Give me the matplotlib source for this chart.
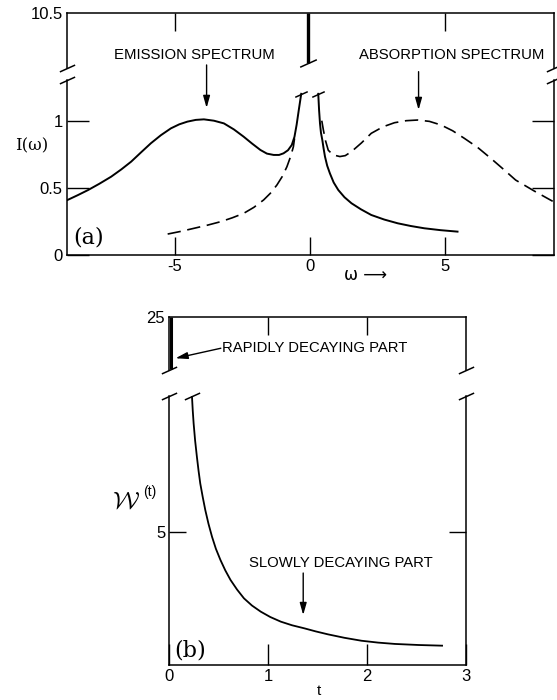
import numpy as np
import matplotlib
matplotlib.use("Agg")
import matplotlib.pyplot as plt

plt.rcParams['font.family'] = ['Liberation Sans', 'DejaVu Sans']
plt.rcParams['mathtext.fontset'] = 'cm'

W, H = 557, 700

# ---- panel (a): I(w) ----
# emission spectrum (solid), left of the central peak
em_left_w = [-8.97, -8.6, -8.21, -7.8, -7.36, -6.98, -6.62, -6.25, -5.89, -5.52,
             -5.15, -4.84, -4.54, -4.23, -3.93, -3.56, -3.19, -2.82, -2.46, -2.15,
             -1.84, -1.6, -1.35, -1.15, -0.985, -0.82, -0.68, -0.58, -0.5, -0.42, -0.33]
em_left_i = [0.41, 0.445, 0.484, 0.53, 0.583, 0.638, 0.695, 0.765, 0.832, 0.892,
             0.943, 0.973, 0.993, 1.006, 1.01, 1.0, 0.98, 0.935, 0.881, 0.83,
             0.782, 0.755, 0.745, 0.745, 0.757, 0.78, 0.819, 0.88, 0.97, 1.08, 1.2]
# emission spectrum (solid), right of the central peak
em_right_w = [0.30, 0.33, 0.364, 0.40, 0.45, 0.50, 0.548, 0.63, 0.73, 0.87, 1.04,
              1.27, 1.53, 1.88, 2.26, 2.74, 3.24, 3.72, 4.22, 4.82, 5.45]
em_right_i = [1.2, 1.08, 0.98, 0.91, 0.856, 0.79, 0.733, 0.665, 0.608, 0.54, 0.484,
              0.43, 0.385, 0.34, 0.298, 0.264, 0.236, 0.216, 0.199, 0.185, 0.174]
# absorption spectrum (dashed)
ab_left_w = [-5.27, -4.78, -4.29, -3.8, -3.31, -2.88, -2.46, -2.08, -1.72, -1.47,
             -1.23, -1.03, -0.86, -0.72, -0.62, -0.57]
ab_left_i = [0.156, 0.176, 0.199, 0.222, 0.248, 0.277, 0.31, 0.355, 0.41, 0.46,
             0.521, 0.585, 0.657, 0.735, 0.806, 0.88]
ab_right_w = [0.43, 0.49, 0.57, 0.67, 0.85, 1.10, 1.30, 1.53, 1.9, 2.26, 2.7,
              3.12, 3.55, 3.98, 4.41, 4.84, 5.27, 5.70, 6.2, 6.68, 7.14, 7.60,
              8.3, 8.97]
ab_right_i = [1.0, 0.93, 0.85, 0.78, 0.745, 0.733, 0.74, 0.77, 0.835, 0.906, 0.955,
              0.985, 1.0, 1.005, 0.995, 0.968, 0.925, 0.869, 0.8, 0.72, 0.64, 0.558,
              0.475, 0.40]
# the off-scale spike at w = 0
spike_a_w = [-0.07, -0.07]
spike_a_i = [10.5, 10.05]

a_xticks = [-5, 0, 5]
a_xlabels = ['-5', '0', '5']
a_yticks = [0, 0.5, 1]
a_ylabels = ['0', '0.5', '1']

# ---- panel (b): W(t) ----
b_t = [0.228, 0.236, 0.245, 0.26, 0.278, 0.295, 0.312, 0.337, 0.363, 0.395,
       0.431, 0.47, 0.516, 0.565, 0.618, 0.684, 0.754, 0.835, 0.924, 1.02,
       1.127, 1.24, 1.365, 1.48, 1.603, 1.77, 1.942, 2.11, 2.28, 2.52, 2.757]
b_w = [10.09, 9.55, 9.06, 8.42, 7.81, 7.28, 6.81, 6.3, 5.81, 5.3,
       4.81, 4.36, 3.94, 3.55, 3.19, 2.83, 2.5, 2.23, 2.0, 1.8,
       1.625, 1.49, 1.375, 1.26, 1.15, 1.02, 0.91, 0.84, 0.79, 0.75, 0.725]
spike_b_t = [0.016, 0.016]
spike_b_w = [25, 20.1]

b_xticks = [0, 1, 2, 3]
b_xlabels = ['0', '1', '2', '3']

SL = [(-1, -0.45), (1, 0.45)]
FS = 10.7   # annotation text
TS = 12     # tick labels


def rect(l, t, r, b):
    return [l / W, 1 - b / H, (r - l) / W, (b - t) / H]


def slash(ax, x, y, data=False, ms=11):
    tr = ax.transData if data else ax.transAxes
    ax.plot([x], [y], marker=SL, ms=ms, mec='k', mew=1.1, ls='none',
            transform=tr, clip_on=False)


def arrow(ax, x0, y0, x1, y1):
    ax.annotate('', xy=(x1, y1), xytext=(x0, y0), annotation_clip=False,
                arrowprops=dict(arrowstyle='-|>,head_length=0.6,head_width=0.17',
                                lw=1.0, color='k', shrinkA=0, shrinkB=0,
                                mutation_scale=12))


def style(ax, top):
    for s in ax.spines.values():
        s.set_linewidth(1.1)
    if top:
        ax.spines['bottom'].set_visible(False)
    else:
        ax.spines['top'].set_visible(False)


fig = plt.figure(figsize=(W / 100, H / 100), dpi=100)

# ----- (a) -----
axa_t = fig.add_axes(rect(66.8, 13.3, 553.5, 68.3))
axa = fig.add_axes(rect(66.8, 80, 553.5, 255))
style(axa_t, True)
style(axa, False)

axa_t.set_xlim(-9, 9)
axa_t.set_ylim(10.0, 10.5)
axa_t.set_xticks([-5, 5])
axa_t.set_yticks([10.5])
axa_t.set_yticklabels(['10.5'])
axa_t.tick_params(axis='x', top=True, bottom=False, labelbottom=False,
                  direction='in', length=13, width=1)
axa_t.tick_params(axis='y', length=0, labelsize=TS, pad=3)
axa_t.plot(spike_a_w, spike_a_i, color='k', lw=2.4, solid_capstyle='butt')
slash(axa_t, spike_a_w[1], spike_a_i[1], data=True, ms=12)
slash(axa_t, 0, 0)
slash(axa_t, 1, 0)

axa.set_xlim(-9, 9)
axa.set_ylim(0, 1.303)
axa.plot(em_left_w, em_left_i, color='k', lw=1.4)
axa.plot(em_right_w, em_right_i, color='k', lw=1.4)
axa.plot(ab_left_w, ab_left_i, color='k', lw=1.2, dashes=(8, 4))
axa.plot(ab_right_w, ab_right_i, color='k', lw=1.2, dashes=(8, 4))
slash(axa, em_left_w[-1], em_left_i[-1], data=True, ms=9)
slash(axa, em_right_w[0], em_right_i[0], data=True, ms=9)
slash(axa, 0, 1)
slash(axa, 1, 1)
axa.set_xticks(a_xticks)
axa.set_xticklabels(a_xlabels)
axa.set_yticks(a_yticks)
axa.set_yticklabels(a_ylabels)
axa.tick_params(axis='x', direction='in', length=13, width=1, labelsize=TS, pad=3)
axa.tick_params(axis='y', direction='in', length=16, width=1, labelsize=TS, pad=3,
                right=True)

axa.text(-4.3, 1.49, 'EMISSION SPECTRUM', ha='center', va='center', fontsize=FS)
arrow(axa, -3.83, 1.415, -3.83, 1.095)
axa.text(5.22, 1.49, 'ABSORPTION SPECTRUM', ha='center', va='center', fontsize=FS)
arrow(axa, 4.01, 1.365, 4.01, 1.08)
axa.text(-8.75, 0.127, '(a)', ha='left', va='center', fontsize=16,
         family='DejaVu Serif')

fig.text(32 / W, 1 - 146 / H, 'I(ω)', ha='center', va='center', fontsize=12,
         family='DejaVu Serif')
fig.text(366 / W, 1 - 275 / H, 'ω \u27f6', ha='center', va='center', fontsize=12,
         family=['DejaVu Sans'])

# ----- (b) -----
axb_t = fig.add_axes(rect(169.4, 316.7, 466.1, 370))
axb = fig.add_axes(rect(169.4, 396, 466.1, 665))
style(axb_t, True)
style(axb, False)

axb_t.set_xlim(0, 3)
axb_t.set_ylim(20, 25)
axb_t.set_xticks([1, 2])
axb_t.set_yticks([25])
axb_t.set_yticklabels(['25'])
axb_t.tick_params(axis='x', top=True, bottom=False, labelbottom=False,
                  direction='in', length=13, width=1)
axb_t.tick_params(axis='y', length=0, labelsize=TS, pad=3)
axb_t.plot(spike_b_t, spike_b_w, color='k', lw=2.2, solid_capstyle='butt')
slash(axb_t, 0, 0)
slash(axb_t, 1, 0)
axb_t.text(0.528, 22.04, 'RAPIDLY DECAYING PART', ha='left', va='center',
           fontsize=FS)
arrow(axb_t, 0.52, 22.04, 0.062, 21.1)

axb.set_xlim(0, 3)
axb.set_ylim(0, 10.09)
axb.plot(b_t, b_w, color='k', lw=1.3)
slash(axb, b_t[0], b_w[0], data=True, ms=11)
slash(axb, 0, 1)
slash(axb, 1, 1)
axb.set_xticks(b_xticks)
axb.set_xticklabels(b_xlabels)
axb.set_yticks([5])
axb.set_yticklabels(['5'])
axb.tick_params(axis='x', direction='in', length=15, width=1, labelsize=TS, pad=3)
axb.tick_params(axis='y', direction='in', length=12, width=1, labelsize=TS, pad=3,
                right=True)
axb.text(1.738, 3.81, 'SLOWLY DECAYING PART', ha='center', va='center',
         fontsize=FS)
arrow(axb, 1.353, 3.45, 1.353, 1.875)
axb.text(0.045, 0.56, '(b)', ha='left', va='center', fontsize=16,
         family='DejaVu Serif')

fig.text(126 / W, 1 - 502 / H, r'$\mathcal{W}$', ha='center', va='center',
         fontsize=18)
fig.text(150 / W, 1 - 492 / H, '(t)', ha='center', va='center', fontsize=10)
fig.text(319 / W, 1 - 691 / H, 't', ha='center', va='center', fontsize=11)

fig.savefig('out.png', dpi=100)
